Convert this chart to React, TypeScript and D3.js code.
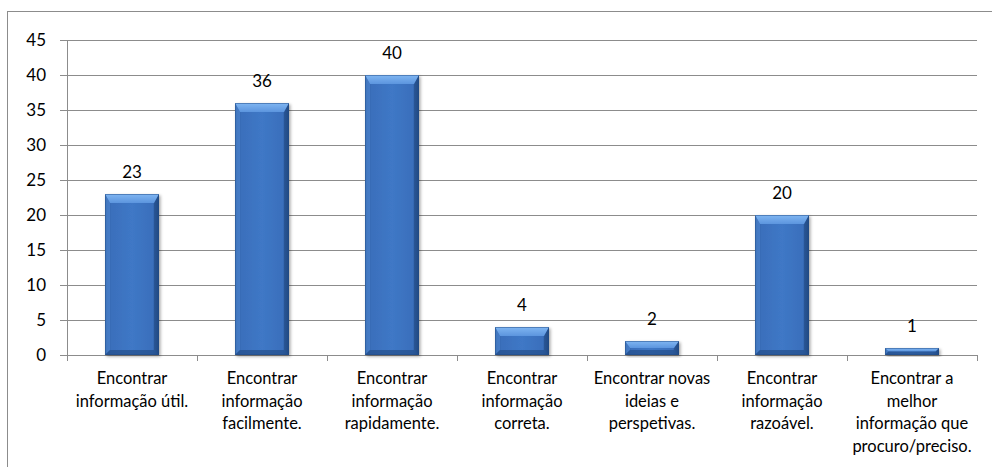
import React from "react";
import * as d3 from "d3";

const categories: string[][] = [
  ["Encontrar", "informação útil."],
  ["Encontrar", "informação", "facilmente."],
  ["Encontrar", "informação", "rapidamente."],
  ["Encontrar", "informação", "correta."],
  ["Encontrar novas", "ideias e", "perspetivas."],
  ["Encontrar", "informação", "razoável."],
  ["Encontrar a", "melhor", "informação que", "procuro/preciso."],
];
const values: number[] = [23, 36, 40, 4, 2, 20, 1];
const yTicks: number[] = [0, 5, 10, 15, 20, 25, 30, 35, 40, 45];

const W = 992;
const H = 467;
const left = 67;
const right = 977;
const top = 40;
const bottom = 355;
const FONT = "Lato, 'Open Sans', sans-serif";

export default function App() {
  const x = d3
    .scaleBand<number>()
    .domain(values.map((_, i) => i))
    .range([left, right])
    .paddingInner(0.585)
    .paddingOuter(0.2925);
  const xOuter = d3
    .scaleBand<number>()
    .domain(values.map((_, i) => i))
    .range([left, right]);
  const y = d3.scaleLinear().domain([0, 45]).range([bottom, top]);

  const bw = x.bandwidth();
  const grid = "#8c8c8c";

  return (
    <svg
      width={W}
      height={H}
      style={{ position: "absolute", left: 0, top: 0, background: "#fff" }}
    >
      <defs>
        <linearGradient id="barH" x1="0" x2="1" y1="0" y2="0">
          <stop offset="0" stopColor="#2b5a9c" />
          <stop offset="0.12" stopColor="#3a6fbc" />
          <stop offset="0.5" stopColor="#3f78c6" />
          <stop offset="0.88" stopColor="#3a6fbc" />
          <stop offset="1" stopColor="#24508e" />
        </linearGradient>
        <linearGradient id="barTop" x1="0" x2="0" y1="0" y2="1">
          <stop offset="0" stopColor="#80b6f2" />
          <stop offset="1" stopColor="#5c95de" />
        </linearGradient>
        <filter id="shadow" x="-20%" y="-20%" width="140%" height="140%">
          <feDropShadow dx="1.5" dy="1.5" stdDeviation="1.5" floodColor="#000" floodOpacity="0.35" />
        </filter>
      </defs>
      <rect x={7.5} y={11.5} width={1000} height={500} fill="#fff" stroke="#8c8c8c" strokeWidth={1} />

      {yTicks.map((t) => (
        <g key={t}>
          <line x1={left - 7} x2={right} y1={Math.round(y(t)) + 0.5} y2={Math.round(y(t)) + 0.5} stroke={grid} strokeWidth={1} />
          <text
            x={46}
            y={y(t)}
            dy="0.35em"
            textAnchor="end"
            fontFamily={FONT}
            fontSize={17}
            fill="#000"
          >
            {t}
          </text>
        </g>
      ))}
      <line x1={left + 0.5} x2={left + 0.5} y1={top} y2={bottom} stroke={grid} />
      {values.map((_, i) => {
        const xx = Math.round(xOuter(i)! + xOuter.bandwidth()) + 0.5;
        return <line key={i} x1={xx} x2={xx} y1={bottom} y2={bottom + 6} stroke={grid} />;
      })}
      <line x1={left + 0.5} x2={left + 0.5} y1={bottom} y2={bottom + 6} stroke={grid} />

      {values.map((v, i) => {
        const x0 = x(i)!;
        const y0 = y(v);
        const h = bottom - y0;
        const bev = Math.min(9, h / 2);
        const sb = Math.min(5, h / 2);
        return (
          <g key={i}>
            <rect x={x0} y={y0} width={bw} height={h} fill="url(#barH)" filter="url(#shadow)" />
            <path
              d={`M${x0},${y0} L${x0 + sb},${y0 + bev} L${x0 + sb},${y0 + h - sb} L${x0},${y0 + h} Z`}
              fill="#5088d4"
              opacity={0.6}
            />
            <path
              d={`M${x0 + bw},${y0} L${x0 + bw - sb},${y0 + bev} L${x0 + bw - sb},${y0 + h - sb} L${x0 + bw},${y0 + h} Z`}
              fill="#1d4479"
              opacity={0.5}
            />
            <path
              d={`M${x0},${y0} L${x0 + bw},${y0} L${x0 + bw - sb},${y0 + bev} L${x0 + sb},${y0 + bev} Z`}
              fill="url(#barTop)"
            />
            <path
              d={`M${x0},${y0 + h} L${x0 + bw},${y0 + h} L${x0 + bw - sb},${y0 + h - sb} L${x0 + sb},${y0 + h - sb} Z`}
              fill="#244e8a"
              opacity={0.7}
            />
            <rect x={x0 + 0.5} y={y0 + 0.5} width={bw - 1} height={h - 1} fill="none" stroke="#1f4a85" strokeOpacity={0.5} />
            <text
              x={x0 + bw / 2}
              y={y0 - 16}
              textAnchor="middle"
              fontFamily={FONT}
              fontSize={17}
              fill="#000"
            >
              {v}
            </text>
          </g>
        );
      })}

      {categories.map((lines, i) => {
        const cx = xOuter(i)! + xOuter.bandwidth() / 2;
        return (
          <text key={i} textAnchor="middle" fontFamily={FONT} fontSize={16.5} fill="#000">
            {lines.map((l, j) => (
              <tspan key={j} x={cx} y={384 + j * 22.5}>
                {l}
              </tspan>
            ))}
          </text>
        );
      })}
    </svg>
  );
}
